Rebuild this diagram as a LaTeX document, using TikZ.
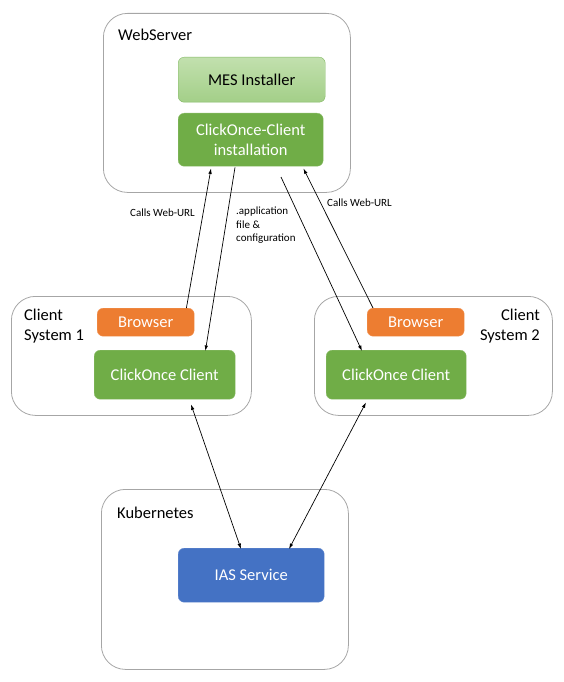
\documentclass[tikz,border=0pt]{standalone}
\usepackage{fontspec}
\setmainfont{Carlito}
\usetikzlibrary{arrows.meta}
\definecolor{orng}{HTML}{ED7D31}
\definecolor{grn}{HTML}{70AD47}
\definecolor{blu}{HTML}{4472C4}
\definecolor{mestop}{HTML}{C2E0AE}
\definecolor{mesbot}{HTML}{A3CF88}
\definecolor{mesedge}{HTML}{82B863}
\definecolor{contedge}{HTML}{A6A6A6}
\begin{document}
\begin{tikzpicture}[x=1pt,y=-1pt,
  container/.style={draw=contedge, line width=0.8pt, rounded corners=24pt, anchor=north west, inner sep=0pt},
  box/.style={rounded corners=6pt, anchor=north west, inner sep=0pt, text=white, align=center, font=\fontsize{16.5}{19.5}\selectfont},
  lbl/.style={inner sep=0pt, font=\fontsize{16.5}{20}\selectfont},
  small/.style={inner sep=0pt, font=\fontsize{11}{13.5}\selectfont, align=left},
  arr/.style={line width=0.7pt, -{Latex[length=5.5pt,width=3.5pt]}},
  darr/.style={line width=0.7pt, {Latex[length=5.5pt,width=3.5pt]}-{Latex[length=5.5pt,width=3.5pt]}}]
\useasboundingbox (0,0) rectangle (563,682);
% containers
\node[container, minimum width=247pt, minimum height=179pt] (web) at (103,13) {};
\node[container, minimum width=240pt, minimum height=119pt] (cs1) at (11,296) {};
\node[container, minimum width=238pt, minimum height=119pt] (cs2) at (314,296) {};
\node[container, minimum width=247pt, minimum height=180pt] (kub) at (101,489) {};
% container labels
\node[lbl, anchor=west] (webl) at (118,35) {WebServer};
\node[lbl, anchor=north west, align=left] (cs1l) at (24,309) {Client\\System 1};
\node[lbl, anchor=north east, align=right] (cs2l) at (540,309) {Client\\System 2};
\node[lbl, anchor=west] (kubl) at (117,513) {Kubernetes};
% boxes
\node[box, draw=mesedge, top color=mestop, bottom color=mesbot, text=black, minimum width=147pt, minimum height=45pt] (mes) at (178,57) {MES Installer};
\node[box, fill=grn, draw=grn!80!white, minimum width=145pt, minimum height=53pt] (inst) at (178,113) {ClickOnce-Client\\installation};
\node[box, fill=orng, draw=orng!80!white, minimum width=97pt, minimum height=28pt] (b1) at (97,308) {Browser};
\node[box, fill=grn, draw=grn!80!white, minimum width=141pt, minimum height=49pt] (cc1) at (94,350) {ClickOnce Client};
\node[box, fill=orng, draw=orng!80!white, minimum width=97pt, minimum height=28pt] (b2) at (367,308) {Browser};
\node[box, fill=grn, draw=grn!80!white, minimum width=140pt, minimum height=49pt] (cc2) at (326,350) {ClickOnce Client};
\node[box, fill=blu, draw=blu!80!white, minimum width=146pt, minimum height=54pt] (ias) at (178,548) {IAS Service};
% connectors
\coordinate (s3) at (281,177);
\draw[arr] ([xshift=-8pt]b1.north east) -- ([xshift=33pt,yshift=-2pt]inst.south west);
\draw[arr] ([xshift=57pt,yshift=-1pt]inst.south west) -- ([xshift=-30pt,yshift=-1pt]cc1.north east);
\draw[arr] (s3) -- ([xshift=36pt,yshift=-1pt]cc2.north west);
\draw[arr] ([xshift=6pt]b2.north west) -- ([xshift=-20pt,yshift=-2pt]inst.south east);
\draw[darr] ([xshift=97pt,yshift=-5pt]cc1.south west) -- ([xshift=63pt,yshift=-1pt]ias.north west);
\draw[darr] ([xshift=40pt,yshift=-3pt]cc2.south west) -- ([xshift=111pt,yshift=-1pt]ias.north west);
% connector labels
\node[small, anchor=west] (l1) at (130,213) {Calls Web-URL};
\node[small, anchor=north west] (l2) at (236,207) {.application\\file \&\\configuration};
\node[small, anchor=west] (l3) at (327,203) {Calls Web-URL};
\end{tikzpicture}
\end{document}
